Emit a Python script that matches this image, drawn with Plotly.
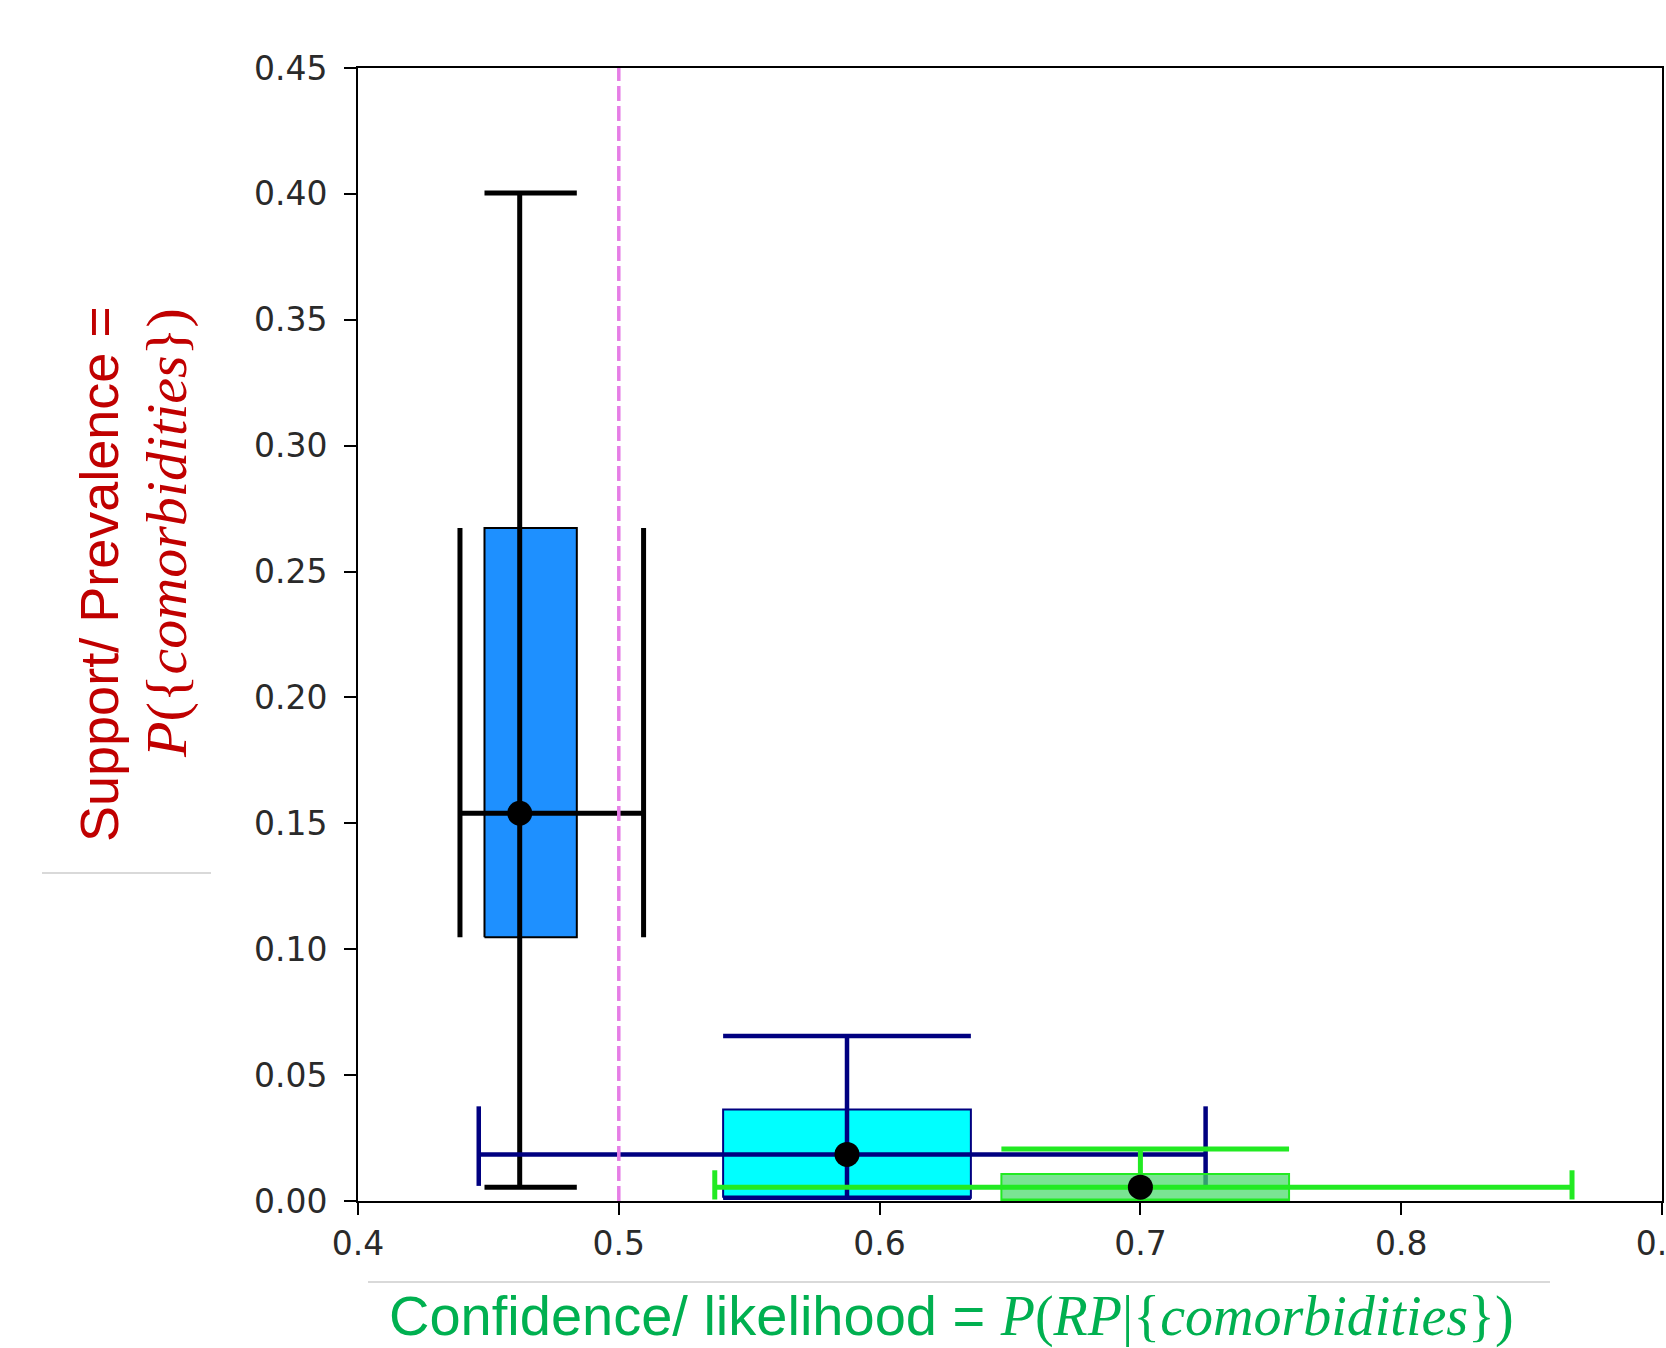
import plotly.graph_objects as go

# ---- data (confidence on x, support on y) ----
conf_median = [0.462, 0.5875, 0.700]
supp_median = [0.154, 0.0185, 0.0055]
conf_q1 = [0.4485, 0.5400, 0.6467]
conf_q3 = [0.4839, 0.6350, 0.7570]
supp_q1 = [0.1048, 0.0013, 0.0000]
supp_q3 = [0.2673, 0.0363, 0.0107]
conf_min = [0.4391, 0.4463, 0.5368]
conf_max = [0.5095, 0.7250, 0.8655]
supp_min = [0.0055, 0.0013, 0.0000]
supp_max = [0.4004, 0.0655, 0.0207]
cap_lo = [0.1048, 0.0060, 0.0006]
cap_hi = [0.2673, 0.0376, 0.0122]
threshold_conf = 0.5
x_ticks = [0.4, 0.5, 0.6, 0.7, 0.8, 0.9]
y_ticks = [0.00, 0.05, 0.10, 0.15, 0.20, 0.25, 0.30, 0.35, 0.40, 0.45]

line_colors = ["#000000", "#000080", "#22EA22"]
box_fills = ["#1E90FF", "#00FFFF", "rgba(70,218,105,0.72)"]
box_edges = ["#000000", "#000080", "#22EA22"]
line_widths = [5, 4.5, 5]

W, H = 1666, 1348
L, R, T, B = 358, 4, 68, 147
PW, PH = W - L - R, H - T - B


def px_to_paper(px, py):
    return (px - L) / PW, (H - B - py) / PH


fig = go.Figure()
for i in range(len(conf_median)):
    fig.add_trace(go.Scatter(
        x=[conf_q1[i], conf_q3[i], conf_q3[i], conf_q1[i], conf_q1[i]],
        y=[supp_q1[i], supp_q1[i], supp_q3[i], supp_q3[i], supp_q1[i]],
        mode="lines", fill="toself", fillcolor=box_fills[i],
        line=dict(color=box_edges[i], width=2), hoverinfo="skip", showlegend=False))
    xs = [conf_min[i], conf_max[i], None,
          conf_median[i], conf_median[i], None,
          conf_q1[i], conf_q3[i], None,
          conf_q1[i], conf_q3[i], None,
          conf_min[i], conf_min[i], None,
          conf_max[i], conf_max[i]]
    ys = [supp_median[i], supp_median[i], None,
          supp_min[i], supp_max[i], None,
          supp_max[i], supp_max[i], None,
          supp_min[i], supp_min[i], None,
          cap_lo[i], cap_hi[i], None,
          cap_lo[i], cap_hi[i]]
    fig.add_trace(go.Scatter(x=xs, y=ys, mode="lines", connectgaps=False,
                             line=dict(color=line_colors[i], width=line_widths[i]),
                             hoverinfo="skip", showlegend=False))
    fig.add_trace(go.Scatter(x=[conf_median[i]], y=[supp_median[i]], mode="markers",
                             marker=dict(color="black", size=25, line=dict(width=0)),
                             showlegend=False))

fig.add_trace(go.Scatter(x=[threshold_conf, threshold_conf], y=[y_ticks[0], y_ticks[-1]],
                         mode="lines", line=dict(color="#E67EE6", width=3.5, dash="15px,5px"),
                         hoverinfo="skip", showlegend=False))

axis_common = dict(showline=True, mirror=True, linecolor="black", linewidth=2,
                   ticks="outside", ticklen=12, tickwidth=2, tickcolor="black",
                   showgrid=False, zeroline=False, automargin=False,
                   ticklabeloverflow="allow",
                   tickfont=dict(family="DejaVu Sans", size=33, color="#2a2a2a"))
fig.update_xaxes(range=[x_ticks[0], x_ticks[-1]], tickvals=x_ticks,
                 ticktext=[f"{v:.1f}" for v in x_ticks], **axis_common)
fig.update_yaxes(range=[y_ticks[0], y_ticks[-1]], tickvals=y_ticks,
                 ticktext=[f"{v:.2f}" for v in y_ticks], ticklabelstandoff=10, **axis_common)

red = "#C00000"
green = "#00B050"
ax1, ay1 = px_to_paper(99, 574)
ax2, ay2 = px_to_paper(166, 533)
axx, ayx = px_to_paper(951, 1316)
fig.add_annotation(x=ax1, y=ay1, xref="paper", yref="paper", text="Support/ Prevalence =",
                   textangle=-90, showarrow=False, xanchor="center", yanchor="middle",
                   font=dict(family="Liberation Sans", size=54, color=red))
fig.add_annotation(x=ax2, y=ay2, xref="paper", yref="paper",
                   text="<i>P</i>({<i>comorbidities</i>})",
                   textangle=-90, showarrow=False, xanchor="center", yanchor="middle",
                   font=dict(family="Liberation Serif", size=58, color=red))
fig.add_annotation(x=axx, y=ayx, xref="paper", yref="paper",
                   text="Confidence/ likelihood = <span style='font-family:Liberation Serif'><i>P</i>(<i>RP</i>|{<i>comorbidities</i>})</span>",
                   showarrow=False, xanchor="center", yanchor="middle",
                   font=dict(family="Liberation Sans", size=56, color=green))

# thin grey text-box edges seen in the reference
gx0, gy0 = px_to_paper(42, 873)
gx1, _ = px_to_paper(211, 873)
fig.add_shape(type="line", xref="paper", yref="paper", x0=gx0, x1=gx1, y0=gy0, y1=gy0,
              line=dict(color="#cccccc", width=1.5))
hx0, hy0 = px_to_paper(368, 1282)
hx1, _ = px_to_paper(1550, 1282)
fig.add_shape(type="line", xref="paper", yref="paper", x0=hx0, x1=hx1, y0=hy0, y1=hy0,
              line=dict(color="#cccccc", width=1.5))

fig.update_layout(width=W, height=H, margin=dict(l=L, r=R, t=T, b=B),
                  plot_bgcolor="white", paper_bgcolor="white", showlegend=False)
fig.write_html("out.html", config={"displayModeBar": False},
               post_script="document.body.style.margin='0';document.body.style.overflow='hidden';")
